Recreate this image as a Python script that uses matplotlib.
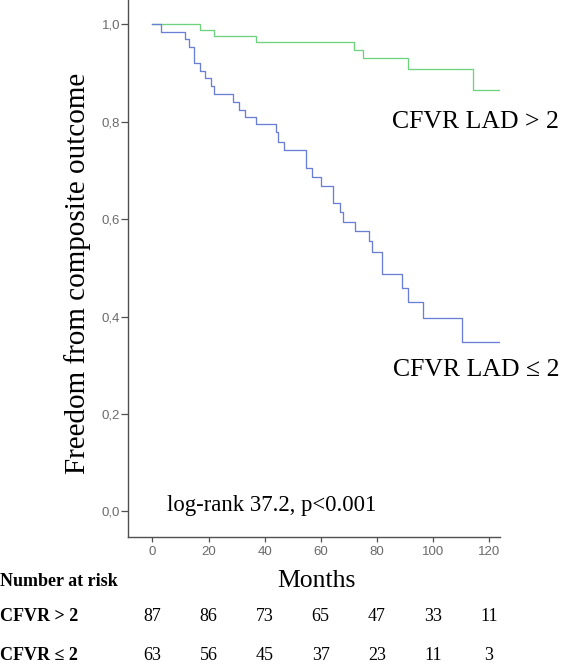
import matplotlib
matplotlib.use("Agg")
import matplotlib.pyplot as plt
import matplotlib.transforms as mtransforms

# Kaplan-Meier steps (months, survival)
green_times = [0, 17.0, 22.0, 37.0, 72.0, 75.0, 91.0, 114.2, 123.9]
green_surv = [1.0, 0.988, 0.977, 0.964, 0.947, 0.930, 0.908, 0.865, 0.865]

blue_times = [0, 3.0, 11.7, 13.1, 14.9, 17.0, 18.8, 20.9, 21.8, 28.9, 30.9,
              33.0, 37.0, 44.0, 44.7, 47.0, 54.8, 57.0, 60.0, 64.2, 67.0,
              68.0, 72.1, 77.1, 78.1, 82.0, 89.1, 91.0, 96.3, 110.3, 123.9]
blue_surv = [1.0, 0.985, 0.969, 0.953, 0.921, 0.905, 0.890, 0.874, 0.858,
             0.841, 0.825, 0.810, 0.795, 0.778, 0.759, 0.741, 0.706, 0.687,
             0.669, 0.634, 0.615, 0.595, 0.576, 0.555, 0.533, 0.487, 0.459,
             0.430, 0.397, 0.347, 0.347]

# number at risk table
risk_months = [0, 20, 40, 60, 80, 100, 120]
risk_high = [87, 86, 73, 65, 47, 33, 11]
risk_low = [63, 56, 45, 37, 23, 11, 3]

y_ticks = [0.0, 0.2, 0.4, 0.6, 0.8, 1.0]
y_ticklabels = ['0,0', '0,2', '0,4', '0,6', '0,8', '1,0']

W, H = 561, 670
fig = plt.figure(figsize=(W / 100, H / 100), dpi=100)

def fx(px):
    return px / W

def fy(py):
    return (H - py) / H

ax = fig.add_axes([fx(128.3), fy(536.7), fx(500) - fx(128.3), fy(0) - fy(536.7)])

ax.step(green_times, green_surv, where='post', color='#6fd27f', lw=0.95)
ax.step(blue_times, blue_surv, where='post', color='#6a7fd4', lw=0.95)

ax.set_xlim(-8.6, 123.9)
ax.set_ylim(-0.052, 1.05)

for s in ['top', 'right']:
    ax.spines[s].set_visible(False)
for s in ['left', 'bottom']:
    ax.spines[s].set_color('#505050')
    ax.spines[s].set_linewidth(1.0)

ax.set_xticks(risk_months)
ax.set_yticks(y_ticks)
ax.set_yticklabels(y_ticklabels)
tick_font = {'family': 'Liberation Sans', 'size': 9.5}
for lab in ax.get_xticklabels() + ax.get_yticklabels():
    lab.set_fontfamily('Liberation Sans')
    lab.set_fontsize(9.5)
ax.tick_params(axis='x', length=3.5, width=0.9, color='#505050',
               labelcolor='#6a6a6a', pad=3)
ax.tick_params(axis='y', length=5.0, width=0.9, color='#505050',
               labelcolor='#6a6a6a', pad=1)

serif = 'Liberation Serif'

fig.text(fx(78), fy(273.5), 'Freedom from composite outcome', family=serif,
         fontsize=21, rotation=90, ha='center', va='center')
fig.text(fx(316.2), fy(587.3), 'Months', family=serif, fontsize=18.5,
         ha='center', va='baseline')

fig.text(fx(391.7), fy(121.7), 'CFVR LAD > 2', family=serif, fontsize=18.5,
         ha='left', va='center')
fig.text(fx(393), fy(370), 'CFVR LAD \u2264 2', family=serif, fontsize=18.5,
         ha='left', va='center')
fig.text(fx(167.4), fy(506), 'log-rank 37.2, p<0.001', family=serif,
         fontsize=16.4, ha='left', va='center')

# at-risk table
fig.text(0.0, fy(586.5), 'Number at risk', family=serif, fontsize=13,
         fontweight='bold', ha='left', va='baseline')
fig.text(0.0, fy(621), 'CFVR > 2', family=serif, fontsize=13,
         fontweight='bold', ha='left', va='baseline')
fig.text(0.0, fy(660.5), 'CFVR \u2264 2', family=serif, fontsize=13,
         fontweight='bold', ha='left', va='baseline')

trans = mtransforms.blended_transform_factory(ax.transData, fig.transFigure)
for m, a, b in zip(risk_months, risk_high, risk_low):
    ax.text(m, fy(621), str(a), transform=trans, family=serif, fontsize=13,
            ha='center', va='baseline', clip_on=False)
    ax.text(m, fy(660.5), str(b), transform=trans, family=serif, fontsize=13,
            ha='center', va='baseline', clip_on=False)

fig.savefig('out.png', dpi=100)
